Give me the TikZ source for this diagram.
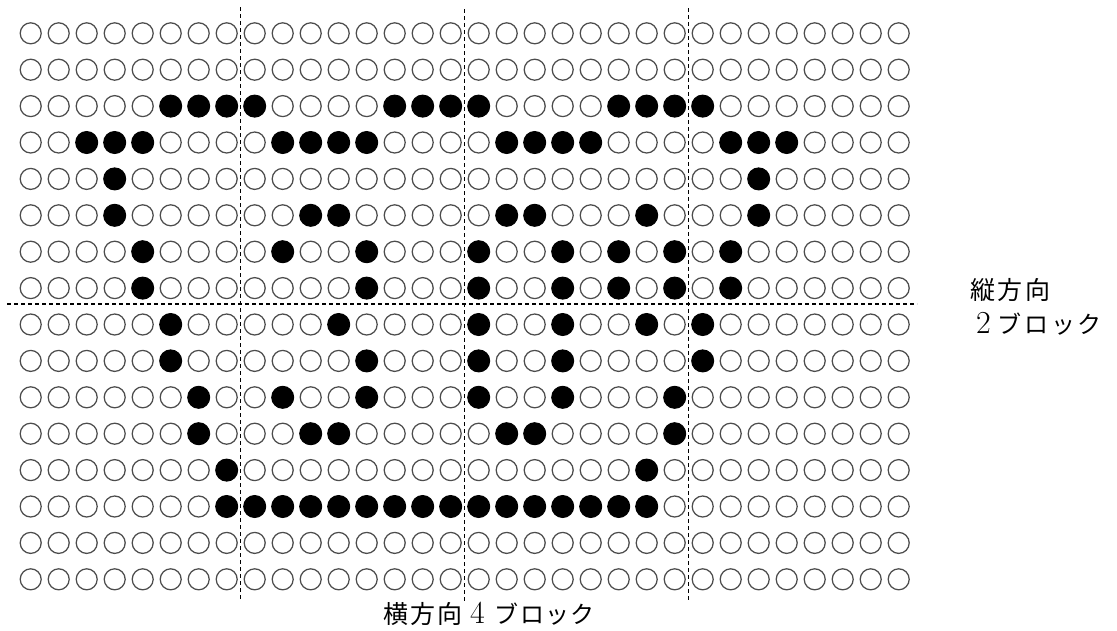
\documentclass[tikz,border=0pt]{standalone}
\usepackage{fontspec}
\newfontfamily\jp{Noto Sans CJK JP}
\makeatletter
\newcommand\dotnode[3]{%
  \edef\dn@tmp{\noexpand\in@{.#2.}{.#3.}}\dn@tmp
  \ifin@
    \node[dotfull] (d-#1-#2) at ({30.7+(#2-1)*28},{33.3+(#1-1)*36.4}) {};
  \else
    \node[dotopen] (d-#1-#2) at ({30.7+(#2-1)*28},{33.3+(#1-1)*36.4}) {};
  \fi}
\makeatother
\tikzset{
  dotopen/.style={circle, draw=black!70, line width=1.25pt, minimum size=21pt, inner sep=0pt},
  dotfull/.style={circle, draw=black, fill=black, line width=1pt, minimum size=22pt, inner sep=0pt},
  divider/.style={draw=black, line width=1.1pt, dash pattern=on 4pt off 3pt},
  lbl/.style={inner sep=0pt, anchor=west}
}
\begin{document}
\begin{tikzpicture}[x=1pt,y=-1pt]
\useasboundingbox (0,0) rectangle (1117,630);
\foreach \rr/\cols in {
  1/0,
  2/0,
  3/6.7.8.9.14.15.16.17.22.23.24.25,
  4/3.4.5.10.11.12.13.18.19.20.21.26.27.28,
  5/4.27,
  6/4.11.12.18.19.23.27,
  7/5.10.13.17.20.22.24.26,
  8/5.13.17.20.22.24.26,
  9/6.12.17.20.23.25,
  10/6.13.17.20.25,
  11/7.10.13.17.20.24,
  12/7.11.12.18.19.24,
  13/8.23,
  14/8.9.10.11.12.13.14.15.16.17.18.19.20.21.22.23,
  15/0,
  16/0}{
  \foreach \cc in {1,...,32}{
    \dotnode{\rr}{\cc}{\cols}
  }
}
% dividers
\coordinate (v1t) at (240.7,7);  \coordinate (v1b) at (240.7,600);
\coordinate (v2t) at (464.7,9);  \coordinate (v2b) at (464.7,602);
\coordinate (v3t) at (688.7,8);  \coordinate (v3b) at (688.7,600);
\coordinate (ht) at (7,304);     \coordinate (hb) at (917,304);
\draw[divider] (v1t) -- (v1b);
\draw[divider] (v2t) -- (v2b);
\draw[divider] (v3t) -- (v3b);
\draw[divider] (ht) -- (hb);
% labels
\node[lbl] (tv1) at (970,290) {\jp\fontsize{25}{25}\selectfont\makebox[80pt][s]{縦\hfill 方\hfill 向}};
\node[lbl] (tv2) at (976,324) {{\rmfamily\fontsize{32}{32}\selectfont 2}\hspace{7pt}\jp\fontsize{24}{24}\selectfont\makebox[104pt][s]{ブ\hfill ロ\hfill ッ\hfill ク}};
\node[lbl] (th) at (383,614) {\jp\fontsize{25}{25}\selectfont\makebox[79pt][s]{横\hfill 方\hfill 向}\hspace{8pt}{\rmfamily\fontsize{32}{32}\selectfont 4}\hspace{10pt}\jp\fontsize{24}{24}\selectfont\makebox[100pt][s]{ブ\hfill ロ\hfill ッ\hfill ク}};
\end{tikzpicture}
\end{document}
